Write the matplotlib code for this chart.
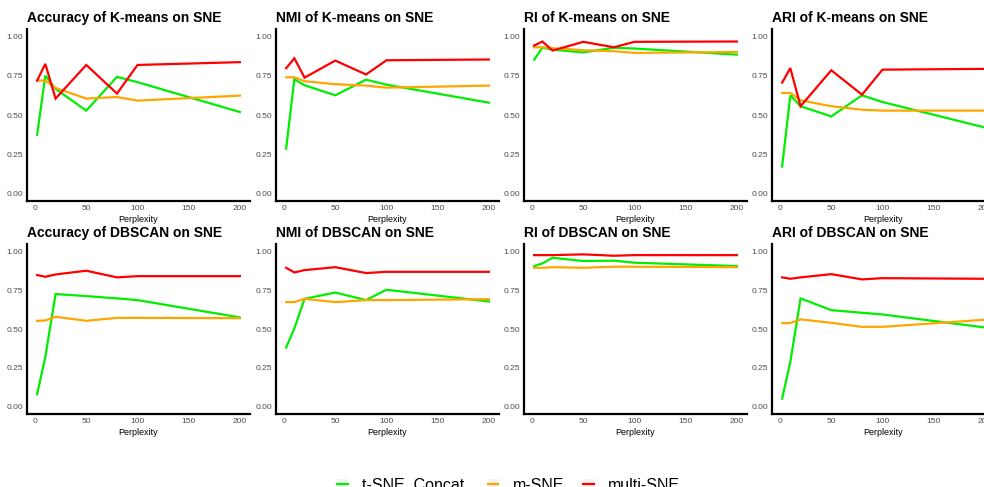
import matplotlib.pyplot as plt
from matplotlib.lines import Line2D
from matplotlib.patches import Patch

plt.rcParams['font.family'] = ['Liberation Sans', 'DejaVu Sans']

# perplexity values used on the x axis
perplexity = [2, 10, 20, 50, 80, 100, 200]

methods = ['t-SNE. Concat.', 'm-SNE', 'multi-SNE']
colors = ['#00EE00', '#FFA500', '#FF0000']

# K-means results (top row)
acc_km_tsne = [0.374, 0.752, 0.667, 0.528, 0.744, 0.710, 0.519]
acc_km_msne = [0.720, 0.720, 0.673, 0.605, 0.615, 0.592, 0.624]
acc_km_multi = [0.720, 0.827, 0.605, 0.820, 0.637, 0.820, 0.838]

nmi_km_tsne = [0.284, 0.729, 0.690, 0.626, 0.726, 0.694, 0.579]
nmi_km_msne = [0.741, 0.741, 0.716, 0.697, 0.688, 0.675, 0.688]
nmi_km_multi = [0.799, 0.863, 0.739, 0.848, 0.759, 0.850, 0.855]

ri_km_tsne = [0.854, 0.930, 0.918, 0.900, 0.930, 0.925, 0.886]
ri_km_msne = [0.933, 0.933, 0.927, 0.914, 0.908, 0.897, 0.903]
ri_km_multi = [0.944, 0.970, 0.912, 0.968, 0.933, 0.968, 0.970]

ari_km_tsne = [0.171, 0.626, 0.556, 0.491, 0.626, 0.583, 0.420]
ari_km_msne = [0.641, 0.641, 0.594, 0.556, 0.534, 0.528, 0.528]
ari_km_multi = [0.707, 0.800, 0.556, 0.786, 0.630, 0.790, 0.795]

# DBSCAN results (bottom row)
acc_db_tsne = [0.078, 0.320, 0.726, 0.713, 0.698, 0.687, 0.575]
acc_db_msne = [0.553, 0.555, 0.579, 0.553, 0.572, 0.572, 0.570]
acc_db_multi = [0.849, 0.838, 0.853, 0.877, 0.834, 0.842, 0.842]

nmi_db_tsne = [0.380, 0.503, 0.695, 0.736, 0.687, 0.754, 0.678]
nmi_db_msne = [0.674, 0.674, 0.695, 0.674, 0.687, 0.687, 0.693]
nmi_db_multi = [0.896, 0.866, 0.881, 0.900, 0.862, 0.870, 0.870]

ri_db_tsne = [0.907, 0.924, 0.961, 0.940, 0.942, 0.929, 0.907]
ri_db_msne = [0.896, 0.896, 0.900, 0.896, 0.903, 0.903, 0.900]
ri_db_multi = [0.978, 0.978, 0.978, 0.983, 0.974, 0.978, 0.978]

ari_db_tsne = [0.050, 0.287, 0.698, 0.622, 0.605, 0.594, 0.510]
ari_db_msne = [0.538, 0.538, 0.562, 0.540, 0.514, 0.514, 0.560]
ari_db_multi = [0.834, 0.825, 0.834, 0.855, 0.821, 0.829, 0.825]

titles = [
    ['Accuracy of K-means on SNE', 'NMI of K-means on SNE',
     'RI of K-means on SNE', 'ARI of K-means on SNE'],
    ['Accuracy of DBSCAN on SNE', 'NMI of DBSCAN on SNE',
     'RI of DBSCAN on SNE', 'ARI of DBSCAN on SNE'],
]
panels = [
    [(acc_km_tsne, acc_km_msne, acc_km_multi),
     (nmi_km_tsne, nmi_km_msne, nmi_km_multi),
     (ri_km_tsne, ri_km_msne, ri_km_multi),
     (ari_km_tsne, ari_km_msne, ari_km_multi)],
    [(acc_db_tsne, acc_db_msne, acc_db_multi),
     (nmi_db_tsne, nmi_db_msne, nmi_db_multi),
     (ri_db_tsne, ri_db_msne, ri_db_multi),
     (ari_db_tsne, ari_db_msne, ari_db_multi)],
]

W, H = 984, 487
fig = plt.figure(figsize=(W / 100, H / 100), dpi=100)

col_left = [27, 276, 524, 772]   # px
ax_w = 223
rows = [(29, 201), (244, 414)]    # top / bottom px

for r in range(2):
    top, bot = rows[r]
    for c in range(4):
        ax = fig.add_axes([col_left[c] / W, 1 - bot / H, ax_w / W, (bot - top) / H])
        for vals, col in zip(panels[r][c], colors):
            ax.plot(perplexity, vals, color=col, lw=1.6, solid_joinstyle='miter')
        ax.set_xlim(2 - 9.9, 200 + 9.9)
        ax.set_ylim(-0.05, 1.05)
        ax.set_xticks([0, 50, 100, 150, 200])
        ax.set_yticks([0, 0.25, 0.5, 0.75, 1.0])
        ax.set_yticklabels(['0.00', '0.25', '0.50', '0.75', '1.00'])
        for s in ['top', 'right']:
            ax.spines[s].set_visible(False)
        for s in ['left', 'bottom']:
            ax.spines[s].set_linewidth(1.6)
            ax.spines[s].set_color('black')
        ax.tick_params(length=0, labelsize=6, labelcolor='#4D4D4D', pad=3)
        ax.set_xlabel('Perplexity', fontsize=6.5, labelpad=2)
        ax.set_title(titles[r][c], loc='left', fontsize=10, fontweight='bold', pad=5)
        ax.patch.set_alpha(0)

handles = [(Patch(facecolor='#F2F2F2', edgecolor='none'),
            Line2D([], [], color=col, lw=1.6)) for col in colors]
fig.legend(handles, methods, loc='center', bbox_to_anchor=(0.517, 0.004),
           ncol=3, frameon=False, fontsize=11.5, handlelength=0.65,
           handleheight=0.65, handletextpad=0.9, columnspacing=1.2)

plt.savefig('out.png', dpi=100)
